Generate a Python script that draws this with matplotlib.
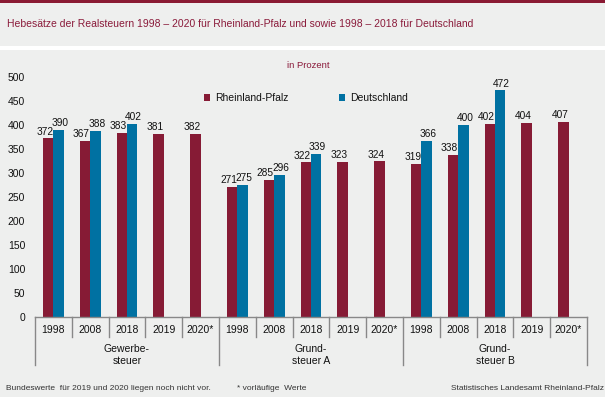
import matplotlib
matplotlib.use("Agg")
import matplotlib.pyplot as plt
import matplotlib.transforms as mtransforms
from matplotlib.patches import Rectangle
import numpy as np

plt.rcParams['font.family'] = ['Liberation Sans', 'DejaVu Sans']

years = ["1998", "2008", "2018", "2019", "2020*"]
groups = ["Gewerbe-\nsteuer", "Grund-\nsteuer A", "Grund-\nsteuer B"]
rlp = [372, 367, 383, 381, 382,
       271, 285, 322, 323, 324,
       319, 338, 402, 404, 407]
de = [390, 388, 402, None, None,
      275, 296, 339, None, None,
      366, 400, 472, None, None]
series_names = ["Rheinland-Pfalz", "Deutschland"]

RED = "#861B35"
BLUE = "#0071A2"
BG = "#EEEFEE"
TITLE_C = "#8A1A3A"

W, H = 605, 397
fig = plt.figure(figsize=(W / 100, H / 100), dpi=100, facecolor=BG)

# decorations: top line, white band
fig.add_artist(Rectangle((0, 1 - 2.5 / H), 1, 2.5 / H, transform=fig.transFigure,
                         facecolor="#8A1A33", edgecolor="none"))
fig.add_artist(Rectangle((0, 1 - 50 / H), 1, 4 / H, transform=fig.transFigure,
                         facecolor="white", edgecolor="none"))

fig.text(7 / W, 1 - 24 / H, "Hebesätze der Realsteuern 1998 – 2020 für Rheinland-Pfalz und sowie 1998 – 2018 für Deutschland",
         color=TITLE_C, fontsize=7.5, va="center", ha="left")

ax = fig.add_axes([35 / W, 1 - 317 / H, 552 / W, 240 / H])
ax.set_facecolor(BG)

n = len(rlp)
x = np.arange(n)
bw = 0.28
rvals = np.array(rlp, dtype=float)
dvals = np.array([np.nan if v is None else v for v in de], dtype=float)

b1 = ax.bar(x - bw / 2, rvals, bw, color=RED, label=series_names[0])
b2 = ax.bar(x + bw / 2, dvals, bw, color=BLUE, label=series_names[1])

for xi, v in zip(x, rvals):
    ax.text(xi - bw / 2 - 0.1, v + 4, f"{int(v)}", ha="center", va="bottom", fontsize=7.3, color="#111111")
for xi, v in zip(x, dvals):
    if not np.isnan(v):
        ax.text(xi + bw / 2 + 0.04, v + 4, f"{int(v)}", ha="center", va="bottom", fontsize=7.3, color="#111111")

ax.set_xlim(-0.5, n - 0.5)
ax.set_ylim(0, 500)
ax.set_yticks(np.arange(0, 501, 50))
ax.tick_params(axis="y", length=0, labelsize=7.5, pad=7)
for lab in ax.get_yticklabels():
    lab.set_color("#111111")
ax.set_xticks([])
for s in ["left", "right", "top"]:
    ax.spines[s].set_visible(False)
ax.spines["bottom"].set_color("#888888")
ax.spines["bottom"].set_linewidth(1.0)

# category axis labels with separators
px = 1 / 240  # axes fraction per pixel in y
trans = mtransforms.blended_transform_factory(ax.transData, ax.transAxes)
for i in range(n + 1):
    xb = i - 0.5
    depth = 48 if i % 5 == 0 else 20
    ax.plot([xb, xb], [0, -depth * px], color="#888888", lw=1.0, transform=trans, clip_on=False)
for i in range(n):
    ax.text(i, -13 * px, years[i % 5], transform=trans, ha="center", va="center", fontsize=7.5, color="#111111")
for g, name in enumerate(groups):
    ax.text(g * 5 + 2, -38 * px, name, transform=trans, ha="center", va="center", fontsize=7.5,
            color="#111111", linespacing=1.25)

fig.text(308 / W, 1 - 66 / H, "in Prozent", color=TITLE_C, fontsize=6.8, ha="center", va="center")

leg = ax.legend(handles=[b1, b2], ncol=2, frameon=False, loc="center left",
                bbox_to_anchor=(204 / W, 1 - 98 / H), bbox_transform=fig.transFigure,
                fontsize=7.5, handlelength=0.6, handleheight=0.6, handletextpad=0.5,
                columnspacing=4.8, borderpad=0, borderaxespad=0)
for t in leg.get_texts():
    t.set_color("#111111")

fig.text(6 / W, 1 - 389 / H, "Bundeswerte  für 2019 und 2020 liegen noch nicht vor.", fontsize=6.0,
         color="#333333", ha="left", va="center")
fig.text(237 / W, 1 - 389 / H, "* vorläufige  Werte", fontsize=6.0, color="#333333", ha="left", va="center")
fig.text(604 / W, 1 - 389 / H, "Statistisches Landesamt Rheinland-Pfalz", fontsize=6.0, color="#333333",
         ha="right", va="center")

fig.savefig("out.png", dpi=100, facecolor=BG)
